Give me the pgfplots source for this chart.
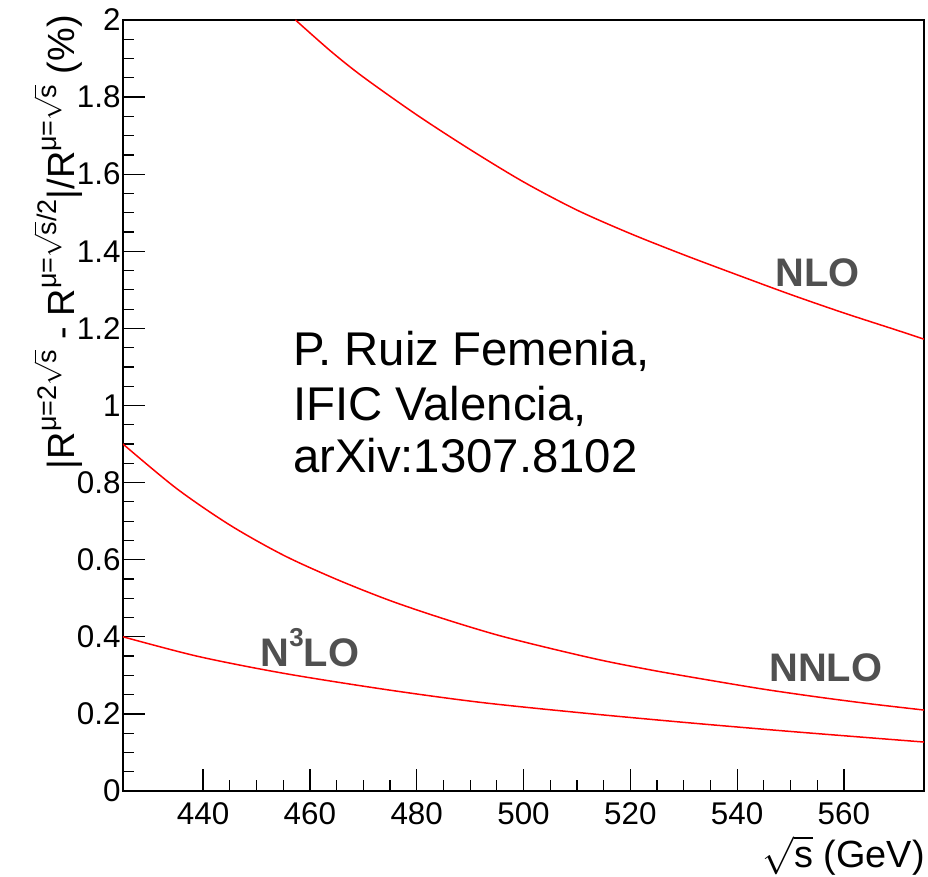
\RequirePackage{fix-cm}
\documentclass[border=0pt]{standalone}
\usepackage{pgfplots}
\pgfplotsset{compat=1.18}
\usepackage{fontspec}
\setmainfont{Liberation Sans}
\definecolor{lblgray}{HTML}{505050}
\newcommand\sqs{$\sqrt{\mbox{s}}$}
\newcommand\sups[1]{\raisebox{0.5em}{\fontsize{27}{27}\selectfont #1}}
\pgfplotstableread{
x y
457.3 2.000
464 1.918
470 1.852
480 1.754
490 1.664
500 1.580
510 1.507
520 1.446
530 1.391
540 1.339
550 1.288
560 1.240
570 1.195
575 1.172
}\nlo
\pgfplotstableread{
x y
425 0.900
435 0.785
445 0.690
455 0.612
465 0.549
475 0.494
485 0.447
495 0.405
505 0.370
515 0.338
525 0.311
535 0.287
545 0.264
555 0.244
565 0.226
575 0.210
}\nnlo
\pgfplotstableread{
x y
425 0.400
439.1 0.349
455.2 0.305
474.3 0.263
491.9 0.230
511.4 0.202
530.9 0.177
550.4 0.154
575 0.127
}\nnnlo
\begin{document}
\begin{tikzpicture}
\path[use as bounding box] (-123bp,-86bp) rectangle (805bp,791bp);
\begin{axis}[
  at={(0,0)}, anchor=south west,
  scale only axis, width=801bp, height=771bp,
  xmin=425, xmax=575, ymin=0, ymax=2,
  xtick={440,460,480,500,520,540,560},
  ytick={0,0.2,0.4,0.6,0.8,1,1.2,1.4,1.6,1.8,2},
  minor x tick num=3, minor y tick num=3,
  tick align=inside, xtick pos=bottom, ytick pos=left,
  major tick length=22bp, minor tick length=11bp,
  axis line style={line width=1.5bp, black},
  tick style={black, line width=1.2bp},
  tick label style={font=\fontsize{31.5}{31.5}\selectfont},
  /pgf/number format/assume math mode=true,
  yticklabel style={/pgf/number format/fixed, /pgf/number format/precision=1, xshift=1bp},
  xticklabel style={/pgf/number format/set thousands separator={}, yshift=-8bp},
]
\addplot[red, line width=1.5bp, smooth] table[x=x,y=y] {\nlo};
\addplot[red, line width=1.5bp, smooth] table[x=x,y=y] {\nnlo};
\addplot[red, line width=1.5bp, smooth] table[x=x,y=y] {\nnnlo};
\node[font=\bfseries\fontsize{40}{40}\selectfont, text=lblgray] at (axis cs:555.1,1.344) {NLO};
\node[font=\bfseries\fontsize{40}{40}\selectfont, text=lblgray] at (axis cs:556.6,0.319) {NNLO};
\node[font=\bfseries\fontsize{40}{40}\selectfont, text=lblgray] at (axis cs:460.0,0.371) {N\raisebox{0.5em}{\fontsize{26}{26}\selectfont 3}LO};
\node[anchor=base west, inner sep=0pt, font=\fontsize{47.5}{47.5}\selectfont] at (axis cs:456.8,1.105) {P. Ruiz Femenia,};
\node[anchor=base west, inner sep=0pt, font=\fontsize{47.5}{47.5}\selectfont] at (axis cs:456.8,0.962) {IFIC Valencia,};
\node[anchor=base west, inner sep=0pt, font=\fontsize{47.5}{47.5}\selectfont] at (axis cs:456.8,0.827) {arXiv:1307.8102};
\end{axis}
\node[rotate=90, anchor=base east, inner sep=0pt, font=\fontsize{38}{38}\selectfont] at (-48bp,776bp) {|R\sups{μ=2\sqs} - R\sups{μ=\sqs/2}|/R\sups{μ=\sqs} (\%)};
\node[anchor=base east, inner sep=0pt, font=\fontsize{38}{38}\selectfont] at (802bp,-76bp) {\sqs\ (GeV)};
\end{tikzpicture}
\end{document}
